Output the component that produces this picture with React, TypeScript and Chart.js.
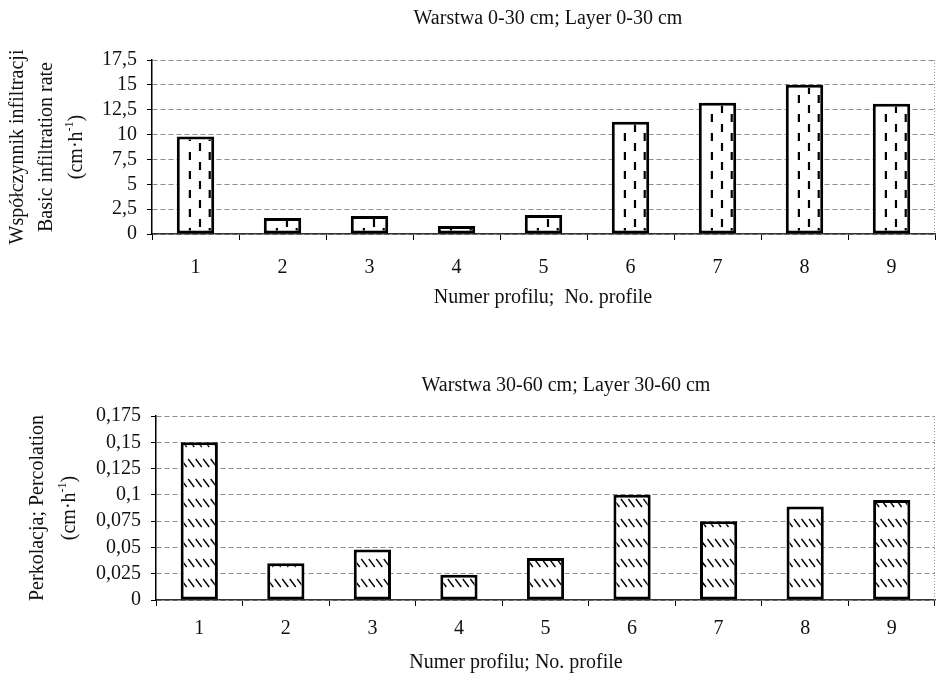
import React, { useEffect, useRef } from "react";
import { Chart, registerables } from "chart.js";

Chart.register(...registerables);

// ---------- data ----------
const profiles = ["1", "2", "3", "4", "5", "6", "7", "8", "9"];
const infiltrationLayer0_30 = [9.8, 1.6, 1.8, 0.8, 1.9, 11.3, 13.2, 15.0, 13.1];
const percolationLayer30_60 = [0.15, 0.035, 0.048, 0.024, 0.04, 0.1, 0.075, 0.089, 0.095];
const yTicksTop = [0, 2.5, 5, 7.5, 10, 12.5, 15, 17.5];
const yTicksBottom = [0, 0.025, 0.05, 0.075, 0.1, 0.125, 0.15, 0.175];

const titleTop = "Warstwa 0-30 cm; Layer 0-30 cm";
const titleBottom = "Warstwa 30-60 cm; Layer 30-60 cm";
const xTitleTop = "Numer profilu;  No. profile";
const xTitleBottom = "Numer profilu; No. profile";
const yTitleTop = ["Współczynnik infiltracji", "Basic infiltration rate"];
const yTitleBottom = ["Perkolacja; Percolation"];
const unitParts = [
  { t: "(cm·h" },
  { t: "-1", sup: true },
  { t: ")" },
];

const FONT = "'Liberation Serif', 'Times New Roman', serif";
const FS = 20;

type Part = { t: string; sup?: boolean };
type Label = { parts: Part[]; x: number; y: number; rot?: boolean };

function fmt(v: number) {
  return String(Number(v.toFixed(3))).replace(".", ",");
}

function drawLabel(ctx: CanvasRenderingContext2D, lab: Label) {
  ctx.save();
  ctx.translate(lab.x, lab.y);
  if (lab.rot) ctx.rotate(-Math.PI / 2);
  ctx.fillStyle = "#111";
  ctx.textBaseline = "middle";
  ctx.textAlign = "left";
  const sup = Math.round(FS * 0.62);
  let w = 0;
  for (const p of lab.parts) {
    ctx.font = `${p.sup ? sup : FS}px ${FONT}`;
    w += ctx.measureText(p.t).width;
  }
  let cx = -w / 2;
  for (const p of lab.parts) {
    ctx.font = `${p.sup ? sup : FS}px ${FONT}`;
    ctx.fillText(p.t, cx, p.sup ? -FS * 0.38 : 0);
    cx += ctx.measureText(p.t).width;
  }
  ctx.restore();
}

type Cfg = {
  values: number[];
  yTicks: number[];
  height: number;
  area: { left: number; right: number; top: number; bottom: number };
  xTickPad: number;
  texts: Label[];
  pattern: "vdash" | "hatch";
};

function buildChart(canvas: HTMLCanvasElement, cfg: Cfg) {
  const W = 937;
  const overlay = {
    id: "overlay",
    afterDatasetsDraw(chart: any) {
      const ctx: CanvasRenderingContext2D = chart.ctx;
      const meta = chart.getDatasetMeta(0);
      meta.data.forEach((el: any) => {
        const { x, y, base, width } = el.getProps(["x", "y", "base", "width"], true);
        const bw = 3;
        const l = x - width / 2 + bw;
        const r = x + width / 2 - bw;
        const t = Math.min(y, base) + bw;
        const b = Math.max(y, base) - bw;
        if (r <= l || b <= t) return;
        ctx.save();
        ctx.beginPath();
        ctx.rect(l, t, r - l, b - t);
        ctx.clip();
        ctx.strokeStyle = "#000";
        if (cfg.pattern === "vdash") {
          ctx.lineWidth = 2.2;
          ctx.setLineDash([8, 11]);
          [0.35, 0.62, 0.88].forEach((f, i) => {
            const xx = x - width / 2 + width * f;
            ctx.lineDashOffset = i === 1 ? 9 : 0;
            ctx.beginPath();
            ctx.moveTo(xx, 0);
            ctx.lineTo(xx, b + 20);
            ctx.stroke();
          });
        } else {
          ctx.lineWidth = 1.4;
          const period = 20;
          const start = Math.floor(t / period) * period - period;
          for (let yy = start; yy < b + period; yy += period) {
            for (let xx = l - 3; xx < r + 2; xx += 7.5) {
              ctx.beginPath();
              ctx.moveTo(xx, yy + 4);
              ctx.lineTo(xx + 6, yy + 12);
              ctx.stroke();
            }
          }
        }
        ctx.restore();
      });
      // faint right border of plot area
      const a = chart.chartArea;
      ctx.save();
      ctx.strokeStyle = "#999";
      ctx.lineWidth = 1;
      ctx.setLineDash([1, 2]);
      ctx.beginPath();
      ctx.moveTo(a.right - 0.5, a.top);
      ctx.lineTo(a.right - 0.5, a.bottom);
      ctx.stroke();
      ctx.restore();
    },
    afterDraw(chart: any) {
      const ctx: CanvasRenderingContext2D = chart.ctx;
      cfg.texts.forEach((lab) => drawLabel(ctx, lab));
    },
  };

  return new Chart(canvas, {
    type: "bar",
    data: {
      labels: profiles,
      datasets: [
        {
          data: cfg.values,
          backgroundColor: "#fff",
          borderColor: "#000",
          borderWidth: 3,
          borderSkipped: false,
          categoryPercentage: 1,
          barPercentage: 0.43,
        },
      ],
    },
    options: {
      responsive: false,
      animation: false,
      events: [],
      layout: { padding: { left: 0, top: cfg.area.top, right: W - cfg.area.right, bottom: 0 } },
      plugins: { legend: { display: false }, title: { display: false }, tooltip: { enabled: false } },
      scales: {
        x: {
          grid: {
            display: true,
            drawOnChartArea: false,
            drawTicks: true,
            tickLength: 6,
            color: "#000",
            tickColor: "#000",
            offset: true,
          },
          border: { display: true, color: "#333", width: 1.5 },
          ticks: {
            color: "#111",
            font: { family: FONT, size: FS },
            padding: cfg.xTickPad,
            autoSkip: false,
            maxRotation: 0,
          },
          afterFit: (s: any) => {
            s.height = cfg.height - cfg.area.bottom;
          },
        },
        y: {
          min: cfg.yTicks[0],
          max: cfg.yTicks[cfg.yTicks.length - 1],
          grid: {
            color: "#8c8c8c",
            lineWidth: 1,
            tickLength: 5,
            tickColor: "#000",
            tickBorderDash: [],
          },
          border: { display: true, color: "#000", width: 1.5, dash: [5, 3] },
          ticks: {
            color: "#111",
            font: { family: FONT, size: FS },
            padding: 10,
            autoSkip: false,
            callback: (v: any) => fmt(Number(v)),
          },
          afterBuildTicks: (s: any) => {
            s.ticks = cfg.yTicks.map((v) => ({ value: v }));
          },
          afterFit: (s: any) => {
            s.width = cfg.area.left;
          },
        },
      },
    },
    plugins: [overlay],
  } as any);
}

export default function App() {
  const topRef = useRef<HTMLCanvasElement>(null);
  const botRef = useRef<HTMLCanvasElement>(null);

  useEffect(() => {
    const TOP_H = 335;
    const BOT_H = 339;
    const c1 = buildChart(topRef.current!, {
      values: infiltrationLayer0_30,
      yTicks: yTicksTop,
      height: TOP_H,
      area: { left: 152, right: 935, top: 60, bottom: 234 },
      xTickPad: 16,
      pattern: "vdash",
      texts: [
        { parts: [{ t: titleTop }], x: 548, y: 19 },
        { parts: [{ t: xTitleTop }], x: 543, y: 298 },
        { parts: [{ t: yTitleTop[0] }], x: 18, y: 147, rot: true },
        { parts: [{ t: yTitleTop[1] }], x: 47, y: 147, rot: true },
        { parts: unitParts, x: 77, y: 147, rot: true },
      ],
    });
    const c2 = buildChart(botRef.current!, {
      values: percolationLayer30_60,
      yTicks: yTicksBottom,
      height: BOT_H,
      area: { left: 156, right: 935, top: 81, bottom: 265 },
      xTickPad: 11,
      pattern: "hatch",
      texts: [
        { parts: [{ t: titleBottom }], x: 566, y: 51 },
        { parts: [{ t: xTitleBottom }], x: 516, y: 328 },
        { parts: [{ t: yTitleBottom[0] }], x: 38, y: 173, rot: true },
        { parts: unitParts, x: 70, y: 173, rot: true },
      ],
    });
    return () => {
      c1.destroy();
      c2.destroy();
    };
  }, []);

  return (
    <div style={{ position: "absolute", left: 0, top: 0, width: 937, height: 674, background: "#fff" }}>
      <canvas ref={topRef} width={937} height={335} style={{ display: "block" }} />
      <canvas ref={botRef} width={937} height={339} style={{ display: "block" }} />
    </div>
  );
}
